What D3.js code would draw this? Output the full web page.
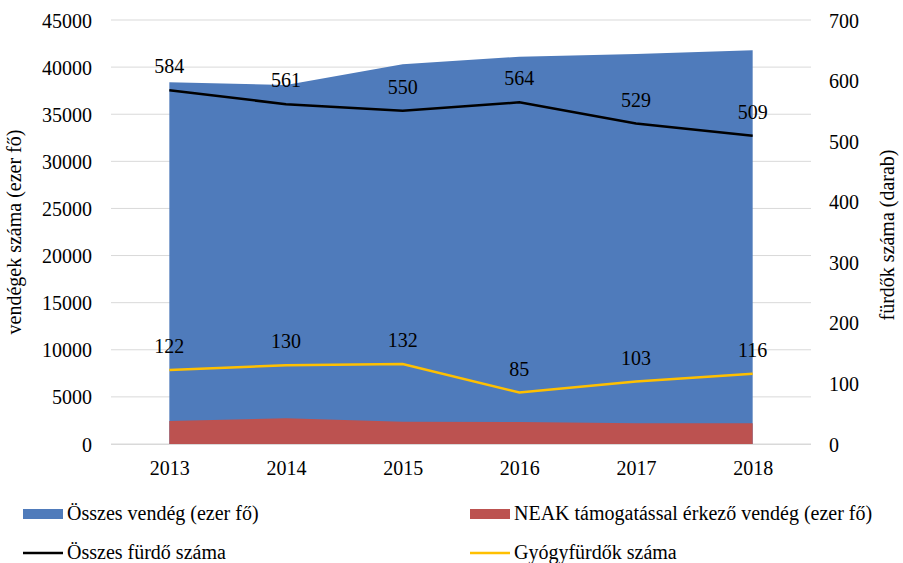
<!DOCTYPE html>
<html>
<head>
<meta charset="utf-8">
<script src="https://cdn.jsdelivr.net/npm/d3@7"></script>
<style>
  body { margin: 0; background: #fff; }
  svg { display: block; }
</style>
</head>
<body>
<svg id="chart" width="903" height="563"></svg>
<script>
const years = ["2013", "2014", "2015", "2016", "2017", "2018"];
const osszesVendeg = [38400, 38100, 40300, 41100, 41400, 41800];
const neakVendeg = [2440, 2730, 2370, 2330, 2200, 2200];
const osszesFurdo = [584, 561, 550, 564, 529, 509];
const gyogyfurdo = [122, 130, 132, 85, 103, 116];
const leftTicks = [0, 5000, 10000, 15000, 20000, 25000, 30000, 35000, 40000, 45000];
const rightTicks = [0, 100, 200, 300, 400, 500, 600, 700];
const seriesNames = ["Összes vendég (ezer fő)", "NEAK támogatással érkező vendég (ezer fő)", "Összes fürdő száma", "Gyógyfürdők száma"];
const colors = ["#4f7bbb", "#bc5250", "#000000", "#ffc000"];

const FONT = "'Liberation Serif'";

const svg = d3.select("#chart");
const plot = { left: 111, right: 811, top: 20, bottom: 444 };

const x = d3.scalePoint().domain(years).range([plot.left, plot.right]).padding(0.5);
const yL = d3.scaleLinear().domain([0, 45000]).range([plot.bottom, plot.top]);
const yR = d3.scaleLinear().domain([0, 700]).range([plot.bottom, plot.top]);

// gridlines
svg.append("g").selectAll("line").data(leftTicks).join("line")
  .attr("x1", plot.left).attr("x2", plot.right)
  .attr("y1", d => yL(d)).attr("y2", d => yL(d))
  .attr("stroke", "#d9d9d9").attr("stroke-width", 1);

// areas
const areaGen = (vals) => d3.area()
  .x((d, i) => x(years[i]))
  .y0(plot.bottom)
  .y1(d => yL(d))(vals);

svg.append("path").attr("d", areaGen(osszesVendeg)).attr("fill", colors[0]);
svg.append("path").attr("d", areaGen(neakVendeg)).attr("fill", colors[1]);

// lines
const lineGen = d3.line().x((d, i) => x(years[i])).y(d => yR(d));
svg.append("path").attr("d", lineGen(osszesFurdo)).attr("fill", "none")
  .attr("stroke", colors[2]).attr("stroke-width", 2.5);
svg.append("path").attr("d", lineGen(gyogyfurdo)).attr("fill", "none")
  .attr("stroke", colors[3]).attr("stroke-width", 2.5);

// data labels
function labels(vals) {
  svg.append("g").selectAll("text").data(vals).join("text")
    .attr("x", (d, i) => x(years[i]))
    .attr("y", d => yR(d) - 17)
    .attr("text-anchor", "middle")
    .text(d => d);
}
labels(osszesFurdo);
labels(gyogyfurdo);

// left axis
const axL = d3.axisLeft(yL).tickValues(leftTicks).tickSize(0).tickPadding(0).tickFormat(d3.format("d"));
const gL = svg.append("g").attr("transform", `translate(92,0)`).call(axL);
gL.select(".domain").remove();
gL.selectAll("text").attr("dy", "0.35em");

// right axis
const axR = d3.axisRight(yR).tickValues(rightTicks).tickSize(0).tickPadding(0).tickFormat(d3.format("d"));
const gR = svg.append("g").attr("transform", `translate(829,0)`).call(axR);
gR.select(".domain").remove();
gR.selectAll("text").attr("dy", "0.35em");

// bottom axis
const axB = d3.axisBottom(x).tickSize(0).tickPadding(0);
const gB = svg.append("g").attr("transform", `translate(0,${plot.bottom})`).call(axB);
gB.select(".domain").attr("stroke", "#d9d9d9").attr("d", `M${plot.left},0.5H${plot.right}`);
gB.selectAll("text").attr("dy", "0").attr("y", 31);

// axis titles
svg.append("text").attr("transform", "translate(21,232) rotate(-90)")
  .attr("text-anchor", "middle").text("vendégek száma (ezer fő)");
svg.append("text").attr("transform", "translate(894,235) rotate(-90)")
  .attr("text-anchor", "middle").text("fürdők száma (darab)");

// legend
const legend = [
  { name: seriesNames[0], color: colors[0], type: "rect", x: 23, y: 514 },
  { name: seriesNames[1], color: colors[1], type: "rect", x: 470, y: 514 },
  { name: seriesNames[2], color: colors[2], type: "line", x: 23, y: 553 },
  { name: seriesNames[3], color: colors[3], type: "line", x: 470, y: 553 }
];
const lg = svg.append("g").selectAll("g").data(legend).join("g")
  .attr("transform", d => `translate(${d.x},${d.y})`);
lg.filter(d => d.type === "rect").append("rect")
  .attr("x", 0).attr("y", -5).attr("width", 40).attr("height", 10)
  .attr("fill", d => d.color);
lg.filter(d => d.type === "line").append("line")
  .attr("x1", 0).attr("x2", 40).attr("y1", 0).attr("y2", 0)
  .attr("stroke", d => d.color).attr("stroke-width", 2.5);
lg.append("text").attr("x", 44).attr("y", 6).text(d => d.name);

// apply font to every text
svg.selectAll("g").attr("font-family", null).attr("font-size", null);
svg.selectAll("text")
  .style("font-family", FONT)
  .style("font-size", "20px")
  .style("fill", "#000");
</script>
</body>
</html>
